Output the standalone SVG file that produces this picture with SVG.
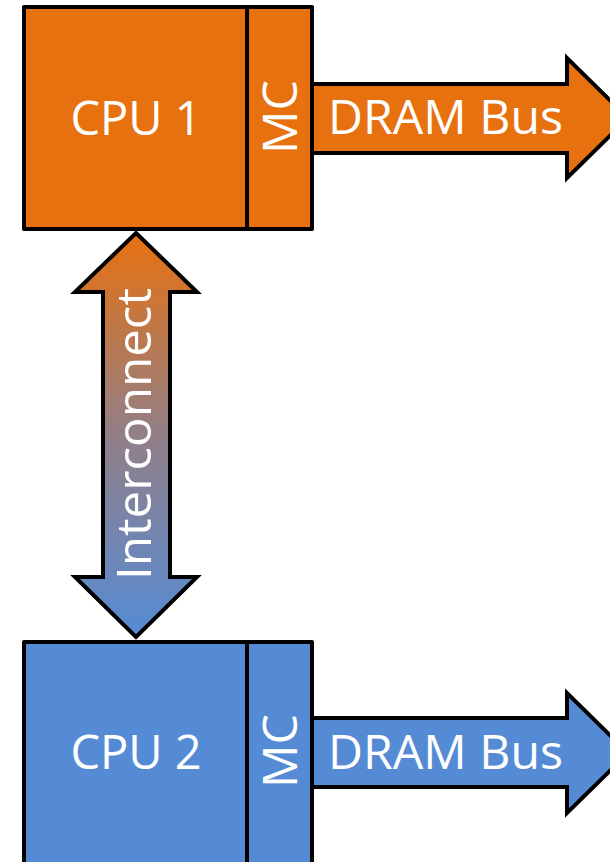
<svg xmlns="http://www.w3.org/2000/svg" width="610" height="862" viewBox="0 0 610 862">
<style>
.box{stroke:#000;stroke-width:4;stroke-linejoin:round}
.org{fill:#E8710F}
.blu{fill:#558BD5}
.arr{stroke:#000;stroke-width:4;stroke-linejoin:miter}
.t{fill:#fff;font-family:"Open Sans","Liberation Sans",sans-serif;font-size:47px}
</style>
<defs>
<linearGradient id="grad" gradientUnits="userSpaceOnUse" x1="0" y1="233" x2="0" y2="637">
<stop offset="0" stop-color="#E8710F"/>
<stop offset="0.5" stop-color="#927F88"/>
<stop offset="1" stop-color="#558BD5"/>
</linearGradient>
</defs>
<rect width="610" height="862" fill="#fff"/>
<g id="connectors">
<polygon id="dram1" class="arr org" points="312,84 567,84 567,58 628,118 567,178 567,153 312,153"/>
<text class="t" x="328" y="134" textLength="235" lengthAdjust="spacingAndGlyphs">DRAM Bus</text>
<polygon id="dram2" class="arr blu" points="312,718 567,718 567,693 628,753 567,813 567,787 312,787"/>
<text class="t" x="328" y="769" textLength="235" lengthAdjust="spacingAndGlyphs">DRAM Bus</text>
<polygon id="interconnect" class="arr" fill="url(#grad)" points="136,233 197,292 170,292 170,577 197,577 136,637 75,577 103,577 103,292 75,292"/>
<text class="t" transform="translate(151,434) rotate(-90)" text-anchor="middle" textLength="292" lengthAdjust="spacingAndGlyphs">Interconnect</text>
</g>
<g id="cpu1">
<rect class="box org" x="24" y="7" width="223" height="222"/>
<text class="t" x="136" y="135" text-anchor="middle" font-size="48">CPU 1</text>
</g>
<g id="mc1">
<rect class="box org" x="247" y="7" width="65" height="222"/>
<text class="t" transform="translate(297,117) rotate(-90)" text-anchor="middle" font-size="48" textLength="74" lengthAdjust="spacingAndGlyphs">MC</text>
</g>
<g id="cpu2">
<rect class="box blu" x="24" y="642" width="223" height="222"/>
<text class="t" x="136" y="769" text-anchor="middle" font-size="48">CPU 2</text>
</g>
<g id="mc2">
<rect class="box blu" x="247" y="642" width="65" height="222"/>
<text class="t" transform="translate(297,751) rotate(-90)" text-anchor="middle" font-size="48" textLength="74" lengthAdjust="spacingAndGlyphs">MC</text>
</g>
</svg>
